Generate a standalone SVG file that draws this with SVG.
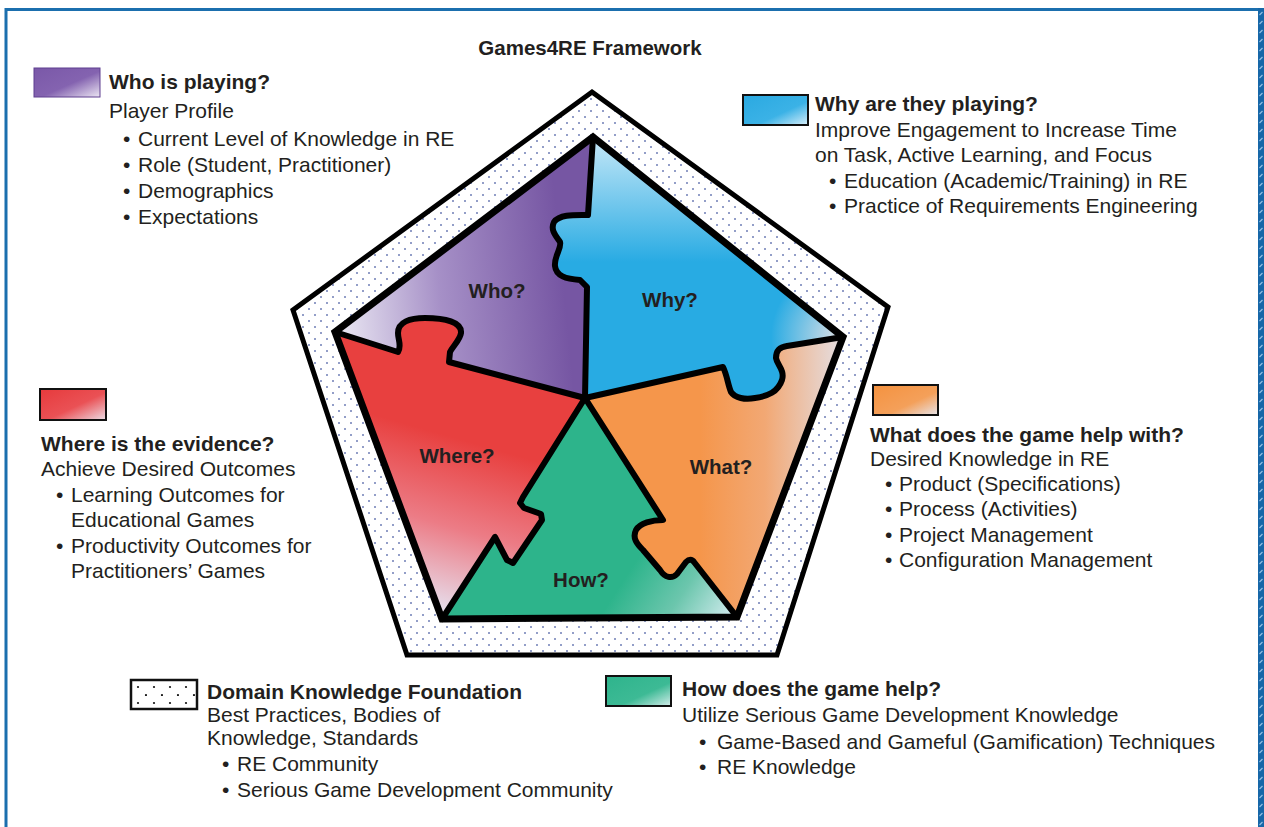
<svg xmlns="http://www.w3.org/2000/svg" xmlns:xlink="http://www.w3.org/1999/xlink" width="1264" height="827" viewBox="0 0 1264 827">
  <defs>
    <style>
      .h{font-family:"Liberation Sans",Arial,sans-serif;font-weight:bold;font-size:21px;fill:#231f20}
      .b{font-family:"Liberation Sans",Arial,sans-serif;font-size:21px;fill:#231f20}
      .lbl{font-family:"Liberation Sans",Arial,sans-serif;font-weight:bold;font-size:20.5px;fill:#231f20;text-anchor:middle}
      .ttl{font-family:"Liberation Sans",Arial,sans-serif;font-weight:bold;font-size:20.5px;fill:#231f20;text-anchor:middle}
      .edge{fill:none;stroke:#000;stroke-width:6;stroke-linejoin:round;stroke-linecap:round}
      .key{stroke:#111;stroke-width:2}
    </style>

    <!-- piece fills -->
    <linearGradient id="gWho" gradientUnits="userSpaceOnUse" x1="340" y1="322" x2="565" y2="300">
      <stop offset="0" stop-color="#e9e6f2"/>
      <stop offset="0.45" stop-color="#a690c7"/>
      <stop offset="1" stop-color="#7656a3"/>
    </linearGradient>
    <linearGradient id="gWhy" gradientUnits="userSpaceOnUse" x1="0" y1="140" x2="0" y2="262">
      <stop offset="0" stop-color="#c2e6f7"/>
      <stop offset="1" stop-color="#28abe3"/>
    </linearGradient>
    <radialGradient id="gWhyTip" gradientUnits="userSpaceOnUse" cx="843" cy="337" r="72">
      <stop offset="0" stop-color="#f1e6e6" stop-opacity="0.95"/>
      <stop offset="1" stop-color="#f1e6e6" stop-opacity="0"/>
    </radialGradient>
    <linearGradient id="gWhere" gradientUnits="userSpaceOnUse" x1="480" y1="445" x2="432" y2="612">
      <stop offset="0" stop-color="#e8403f"/>
      <stop offset="0.5" stop-color="#ec7c86"/>
      <stop offset="1" stop-color="#e6e3f1"/>
    </linearGradient>
    <linearGradient id="gWhat" gradientUnits="userSpaceOnUse" x1="700" y1="0" x2="845" y2="0">
      <stop offset="0" stop-color="#f5964b"/>
      <stop offset="0.45" stop-color="#f2a874"/>
      <stop offset="1" stop-color="#e4e0e6"/>
    </linearGradient>
    <linearGradient id="gHow" gradientUnits="userSpaceOnUse" x1="640" y1="555" x2="735" y2="617">
      <stop offset="0" stop-color="#2db48b"/>
      <stop offset="0.5" stop-color="#6cc6ad"/>
      <stop offset="1" stop-color="#d6edf1"/>
    </linearGradient>

    <!-- key swatch fills -->
    <linearGradient id="kWho" x1="0" y1="0" x2="1" y2="1">
      <stop offset="0" stop-color="#7a58a8"/>
      <stop offset="0.55" stop-color="#8463b0"/>
      <stop offset="1" stop-color="#ece6f3"/>
    </linearGradient>
    <linearGradient id="kWhy" x1="0" y1="0" x2="1" y2="1">
      <stop offset="0" stop-color="#2aa9e1"/>
      <stop offset="0.6" stop-color="#3bb2e6"/>
      <stop offset="1" stop-color="#d8eef9"/>
    </linearGradient>
    <linearGradient id="kWhere" x1="0" y1="0" x2="1" y2="1">
      <stop offset="0" stop-color="#e63a3c"/>
      <stop offset="0.55" stop-color="#ea5155"/>
      <stop offset="1" stop-color="#ecdde6"/>
    </linearGradient>
    <linearGradient id="kWhat" x1="0" y1="0" x2="1" y2="1">
      <stop offset="0" stop-color="#f4923f"/>
      <stop offset="0.6" stop-color="#f4a05a"/>
      <stop offset="1" stop-color="#e7e4ea"/>
    </linearGradient>
    <linearGradient id="kHow" x1="0" y1="0" x2="1" y2="1">
      <stop offset="0" stop-color="#2eb48c"/>
      <stop offset="0.6" stop-color="#3dba95"/>
      <stop offset="1" stop-color="#d5edeb"/>
    </linearGradient>

    <!-- dotted foundation band -->
    <pattern id="dots" patternUnits="userSpaceOnUse" x="0" y="0" width="12" height="12">
      <rect width="12" height="12" fill="#fff"/>
      <circle cx="3" cy="3" r="1" fill="#6f7db6"/>
      <circle cx="9" cy="9" r="1" fill="#6f7db6"/>
    </pattern>
    <pattern id="keyDots" patternUnits="userSpaceOnUse" x="131" y="680" width="16" height="16">
      <rect width="16" height="16" fill="#fff"/>
      <circle cx="7" cy="7" r="1.1" fill="#111"/>
      <circle cx="15" cy="15" r="1.1" fill="#111"/>
    </pattern>
    <pattern id="edgeTicks" patternUnits="userSpaceOnUse" x="1258" y="0" width="6" height="9">
      <rect width="6" height="9" fill="#1667a8"/>
      <line x1="1.5" y1="6" x2="4.5" y2="3" stroke="#8fbde3" stroke-width="1.2"/>
    </pattern>

    <path id="shapeWhy" d="M 593 137 L 843 337 L 787 346 C 780 347 776 350 776 358 C 777 365 785 370 782 380 C 778 392 768 396 755 398 C 745 400 735 398 731 392 C 728 385 727 375 723 367 L 585 398 L 587 287 L 580 280 C 566 279 556 276 555 266 C 554 256 562 248 560 242 C 556 236 550 230 554 222 C 560 214 575 215 588 215 Z"/>
  </defs>

  <rect width="1264" height="827" fill="#fff"/>

  <!-- page frame -->
  <g id="frame">
    <line x1="5" y1="9.5" x2="1259" y2="9.5" stroke="#1b6fae" stroke-width="3"/>
    <line x1="6" y1="8" x2="6" y2="827" stroke="#1b6fae" stroke-width="3"/>
    <rect x="1258" y="8" width="6" height="819" fill="url(#edgeTicks)"/>
  </g>

  <text id="title" class="ttl" x="590" y="55">Games4RE Framework</text>

  <!-- domain knowledge band -->
  <g id="foundation">
    <path d="M 592 92 L 888 307 L 777 655 L 407 655 L 293 310 Z" fill="url(#dots)" stroke="#000" stroke-width="5" stroke-linejoin="miter"/>
  </g>

  <g id="piece-who">
    <path fill="url(#gWho)" d="M 593 137 L 588 215 C 575 215 560 214 554 222 C 550 230 556 236 560 242 C 562 248 554 256 555 266 C 556 276 566 279 580 280 L 587 287 L 585 398 L 449 362 L 450 352 C 453 346 460 340 461 333 C 462 322 445 318 425 318 C 410 318 398 322 398 333 C 398 340 402 346 398 352 L 335 332 Z"/>
    <text class="lbl" x="497" y="298">Who?</text>
  </g>

  <g id="piece-why">
    <use xlink:href="#shapeWhy" fill="url(#gWhy)"/>
    <use xlink:href="#shapeWhy" fill="url(#gWhyTip)"/>
    <text class="lbl" x="670" y="307">Why?</text>
  </g>

  <g id="piece-what">
    <path fill="url(#gWhat)" d="M 585 398 L 723 367 C 727 375 728 385 731 392 C 735 398 745 400 755 398 C 768 396 778 392 782 380 C 785 370 777 365 776 358 C 776 350 780 347 787 346 L 843 337 L 737 617 L 694 562 C 692 559 689 559 686 562 L 677 574 C 672 579 665 578 660 570 L 643 550 C 637 544 632 538 636 530 C 640 523 652 520 663 520 Z"/>
    <text class="lbl" x="721" y="474">What?</text>
  </g>

  <g id="piece-how">
    <path fill="url(#gHow)" d="M 585 398 L 663 520 C 652 520 640 523 636 530 C 632 538 637 544 643 550 L 660 570 C 665 578 672 579 677 574 L 686 562 C 689 559 692 559 694 562 L 737 617 L 442 619 L 495 537 L 507 560 L 513 563 L 542 520 L 541 514 L 524 508 L 520 503 L 523 497 Z"/>
    <text class="lbl" x="581" y="587">How?</text>
  </g>

  <g id="piece-where">
    <path fill="url(#gWhere)" d="M 585 398 L 523 497 L 520 503 L 524 508 L 541 514 L 542 520 L 513 563 L 507 560 L 495 537 L 442 619 L 335 332 L 398 352 C 402 346 398 340 398 333 C 398 322 410 318 425 318 C 445 318 462 322 461 333 C 460 340 453 346 450 352 L 449 362 Z"/>
    <text class="lbl" x="457" y="463">Where?</text>
  </g>

  <!-- black outlines of the puzzle pieces -->
  <g id="piece-outlines">
    <path class="edge" d="M 593 137 L 588 215 C 575 215 560 214 554 222 C 550 230 556 236 560 242 C 562 248 554 256 555 266 C 556 276 566 279 580 280 L 587 287 L 585 398"/>
    <path class="edge" d="M 335 332 L 398 352 C 402 346 398 340 398 333 C 398 322 410 318 425 318 C 445 318 462 322 461 333 C 460 340 453 346 450 352 L 449 362 L 585 398"/>
    <path class="edge" d="M 585 398 L 523 497 L 520 503 L 524 508 L 541 514 L 542 520 L 513 563 L 507 560 L 495 537 L 442 619"/>
    <path class="edge" d="M 585 398 L 663 520 C 652 520 640 523 636 530 C 632 538 637 544 643 550 L 660 570 C 665 578 672 579 677 574 L 686 562 C 689 559 692 559 694 562 L 737 617"/>
    <path class="edge" d="M 585 398 L 723 367 C 727 375 728 385 731 392 C 735 398 745 400 755 398 C 768 396 778 392 782 380 C 785 370 777 365 776 358 C 776 350 780 347 787 346 L 843 337"/>
    <path d="M 593 137 L 843 337 L 737 617 L 442 619 L 335 332 Z" fill="none" stroke="#000" stroke-width="7" stroke-linejoin="miter"/>
  </g>

  <!-- key: who -->
  <g id="key-who">
    <rect x="34" y="68" width="66" height="29" fill="url(#kWho)" stroke="#5f3f8f" stroke-width="1"/>
    <text class="h" x="109" y="89">Who is playing?</text>
    <text class="b" x="109" y="118">Player Profile</text>
    <text class="b" y="146"><tspan x="123">•</tspan><tspan x="138">Current Level of Knowledge in RE</tspan></text>
    <text class="b" y="172"><tspan x="123">•</tspan><tspan x="138">Role (Student, Practitioner)</tspan></text>
    <text class="b" y="198"><tspan x="123">•</tspan><tspan x="138">Demographics</tspan></text>
    <text class="b" y="224"><tspan x="123">•</tspan><tspan x="138">Expectations</tspan></text>
  </g>

  <!-- key: why -->
  <g id="key-why">
    <rect x="743" y="95" width="65" height="30" fill="url(#kWhy)" class="key"/>
    <text class="h" x="815" y="111">Why are they playing?</text>
    <text class="b" x="815" y="137">Improve Engagement to Increase Time</text>
    <text class="b" x="815" y="162">on Task, Active Learning, and Focus</text>
    <text class="b" y="188"><tspan x="829">•</tspan><tspan x="844">Education (Academic/Training) in RE</tspan></text>
    <text class="b" y="213"><tspan x="829">•</tspan><tspan x="844">Practice of Requirements Engineering</tspan></text>
  </g>

  <!-- key: where -->
  <g id="key-where">
    <rect x="40" y="389" width="66" height="31" fill="url(#kWhere)" class="key"/>
    <text class="h" x="41" y="451">Where is the evidence?</text>
    <text class="b" x="41" y="476">Achieve Desired Outcomes</text>
    <text class="b" y="502"><tspan x="56">•</tspan><tspan x="71">Learning Outcomes for</tspan></text>
    <text class="b" x="71" y="527">Educational Games</text>
    <text class="b" y="553"><tspan x="56">•</tspan><tspan x="71">Productivity Outcomes for</tspan></text>
    <text class="b" x="71" y="578">Practitioners’ Games</text>
  </g>

  <!-- key: what -->
  <g id="key-what">
    <rect x="873" y="385" width="65" height="30" fill="url(#kWhat)" class="key"/>
    <text class="h" x="870" y="442">What does the game help with?</text>
    <text class="b" x="870" y="466">Desired Knowledge in RE</text>
    <text class="b" y="491"><tspan x="885">•</tspan><tspan x="899">Product (Specifications)</tspan></text>
    <text class="b" y="516"><tspan x="885">•</tspan><tspan x="899">Process (Activities)</tspan></text>
    <text class="b" y="542"><tspan x="885">•</tspan><tspan x="899">Project Management</tspan></text>
    <text class="b" y="567"><tspan x="885">•</tspan><tspan x="899">Configuration Management</tspan></text>
  </g>

  <!-- key: domain knowledge foundation -->
  <g id="key-foundation">
    <rect x="131" y="680" width="66" height="29" fill="url(#keyDots)" stroke="#111" stroke-width="2.5"/>
    <text class="h" x="207" y="699">Domain Knowledge Foundation</text>
    <text class="b" x="207" y="722">Best Practices, Bodies of</text>
    <text class="b" x="207" y="745">Knowledge, Standards</text>
    <text class="b" y="771"><tspan x="222">•</tspan><tspan x="237">RE Community</tspan></text>
    <text class="b" y="797"><tspan x="222">•</tspan><tspan x="237">Serious Game Development Community</tspan></text>
  </g>

  <!-- key: how -->
  <g id="key-how">
    <rect x="606" y="676" width="65" height="30" fill="url(#kHow)" class="key"/>
    <text class="h" x="682" y="696">How does the game help?</text>
    <text class="b" x="682" y="722">Utilize Serious Game Development Knowledge</text>
    <text class="b" y="749"><tspan x="699">•</tspan><tspan x="717">Game-Based and Gameful (Gamification) Techniques</tspan></text>
    <text class="b" y="774"><tspan x="699">•</tspan><tspan x="717">RE Knowledge</tspan></text>
  </g>
</svg>
